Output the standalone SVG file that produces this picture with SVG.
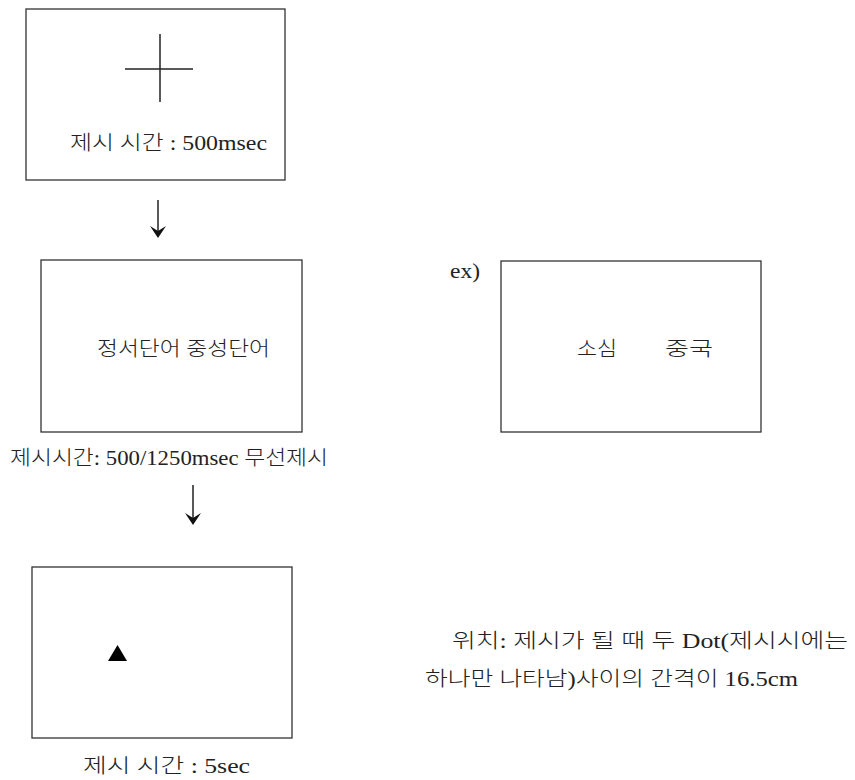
<svg xmlns="http://www.w3.org/2000/svg" width="855" height="780" viewBox="0 0 855 780">
<style>
.box{fill:#fff;stroke:#333;stroke-width:1.3}
.t{font-family:"Liberation Serif","Noto Sans CJK KR",serif;font-size:20px;font-weight:300;fill:#222}
.ln{stroke:#222;stroke-width:1.5;fill:none}
.ar{fill:#111}
</style>
<rect width="855" height="780" fill="#fff"/>
<g id="node-fixation">
<rect class="box" x="26" y="9" width="259" height="171"/>
<line class="ln" x1="125" y1="69" x2="193" y2="69"/>
<line class="ln" x1="160" y1="34" x2="160" y2="102"/>
<text class="t" x="70" y="150" textLength="197" lengthAdjust="spacingAndGlyphs">제시 시간 : 500msec</text>
</g>
<g id="node-words">
<rect class="box" x="41" y="260" width="261" height="172"/>
<text class="t" x="97" y="356" textLength="173" lengthAdjust="spacingAndGlyphs">정서단어 중성단어</text>
<text class="t" x="10" y="465" textLength="318" lengthAdjust="spacingAndGlyphs">제시시간: 500/1250msec 무선제시</text>
</g>
<g id="node-example">
<text class="t" x="450" y="278" textLength="30" lengthAdjust="spacingAndGlyphs">ex)</text>
<rect class="box" x="501" y="261" width="260" height="171"/>
<text class="t" x="577" y="356" textLength="40" lengthAdjust="spacingAndGlyphs">소심</text>
<text class="t" x="665" y="356" textLength="48" lengthAdjust="spacingAndGlyphs">중국</text>
</g>
<g id="node-dot">
<rect class="box" x="32" y="567" width="260" height="171"/>
<polygon fill="#000" points="117.5,645 108,661 127,661"/>
<text class="t" x="83" y="773" textLength="167" lengthAdjust="spacingAndGlyphs">제시 시간 : 5sec</text>
</g>
<g id="note">
<text class="t" x="452" y="648" textLength="396" lengthAdjust="spacingAndGlyphs">위치: 제시가 될 때 두 Dot(제시시에는</text>
<text class="t" x="425" y="686" textLength="373" lengthAdjust="spacingAndGlyphs">하나만 나타남)사이의 간격이 16.5cm</text>
</g>
<g id="connectors">
<line class="ln" x1="158" y1="200" x2="158" y2="236"/>
<path class="ar" d="M150,226 L158,238 L166,226 L158,231 Z"/>
<line class="ln" x1="193" y1="485" x2="193" y2="523"/>
<path class="ar" d="M185,513 L193,525 L201,513 L193,518 Z"/>
</g>
</svg>
